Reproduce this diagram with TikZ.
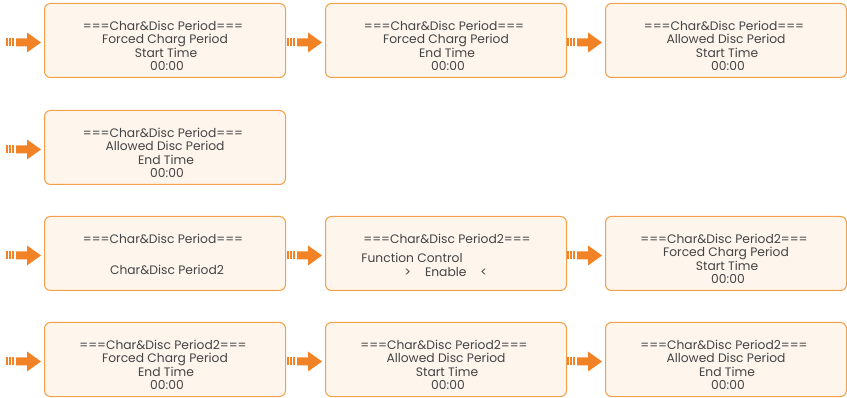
\documentclass[tikz,border=0pt]{standalone}
\usepackage{fontspec}
\setmainfont{Poppins}
\definecolor{boxline}{HTML}{F3A04A}
\definecolor{boxfill}{HTML}{FEF5EC}
\definecolor{arrowc}{HTML}{F28226}
\definecolor{txt}{HTML}{444444}
\tikzset{
  panel/.style={draw=boxline, fill=boxfill, line width=1pt, rounded corners=6pt,
    minimum width=241pt, minimum height=74pt, inner sep=0pt},
  paneltext/.style={text=txt, font=\fontsize{12.3}{13.3}\selectfont, align=center,
    inner sep=0pt, anchor=north},
  feed/.pic={
    \fill[arrowc] (-38,-4) rectangle (-36,4);
    \fill[arrowc] (-35,-4) rectangle (-33,4);
    \fill[arrowc] (-32,-4) rectangle (-30,4);
    \fill[arrowc] (-28,-4) -- (-17,-4) -- (-17,-10) -- (-3,0) -- (-17,10) -- (-17,4) -- (-28,4) -- cycle;
  }
}
\newcommand\plines[4]{#1\hspace*{4pt}\\#2\hspace*{10pt}\\\hspace*{2pt}#3\\\hspace*{4pt}#4}
\begin{document}
\begin{tikzpicture}[x=1pt,y=-1pt]
\useasboundingbox (0,0) rectangle (847,398);
% boxes
\node[panel] (b1) at (165,40.5) {};
\node[panel] (b2) at (446,40.5) {};
\node[panel] (b3) at (726,40.5) {};
\node[panel] (b4) at (165,147.5) {};
\node[panel] (b5) at (165,253.5) {};
\node[panel] (b6) at (446,253.5) {};
\node[panel] (b7) at (726,253.5) {};
\node[panel] (b8) at (165,359.5) {};
\node[panel] (b9) at (446,359.5) {};
\node[panel] (b10) at (726,359.5) {};
% arrows
\foreach \b in {b1,b2,b3,b4,b5,b6,b7,b8,b9,b10}
  \pic at ([yshift=-2pt]\b.west) {feed};
% texts
\node[paneltext] (t1) at ([yshift=-18pt]b1.north) {\plines{===Char\&Disc Period===}{Forced Charg Period}{Start Time}{00:00}};
\node[paneltext] (t2) at ([yshift=-18pt]b2.north) {\plines{===Char\&Disc Period===}{Forced Charg Period}{End Time}{00:00}};
\node[paneltext] (t3) at ([yshift=-18pt]b3.north) {\plines{===Char\&Disc Period===}{Allowed Disc Period}{Start Time}{00:00}};
\node[paneltext] (t4) at ([yshift=-18pt]b4.north) {\plines{===Char\&Disc Period===}{Allowed Disc Period}{End Time}{00:00}};
\node[paneltext] (t5) at ([yshift=-18pt]b5.north) {===Char\&Disc Period===\hspace*{4pt}\\[17.4pt]\hspace*{4pt}Char\&Disc Period2};
\node[paneltext, align=left] (t6) at ([yshift=-18pt]b6.north) {\hspace*{2pt}===Char\&Disc Period2===\\[6pt]Function Control\\\hspace*{43pt}>\hspace{14pt}Enable\hspace{14pt}<};
\node[paneltext] (t7) at ([yshift=-18pt]b7.north) {\plines{===Char\&Disc Period2===}{Forced Charg Period}{Start Time}{00:00}};
\node[paneltext] (t8) at ([yshift=-18pt]b8.north) {\plines{===Char\&Disc Period2===}{Forced Charg Period}{End Time}{00:00}};
\node[paneltext] (t9) at ([yshift=-18pt]b9.north) {\plines{===Char\&Disc Period2===}{Allowed Disc Period}{Start Time}{00:00}};
\node[paneltext] (t10) at ([yshift=-18pt]b10.north) {\plines{===Char\&Disc Period2===}{Allowed Disc Period}{End Time}{00:00}};
\end{tikzpicture}
\end{document}
